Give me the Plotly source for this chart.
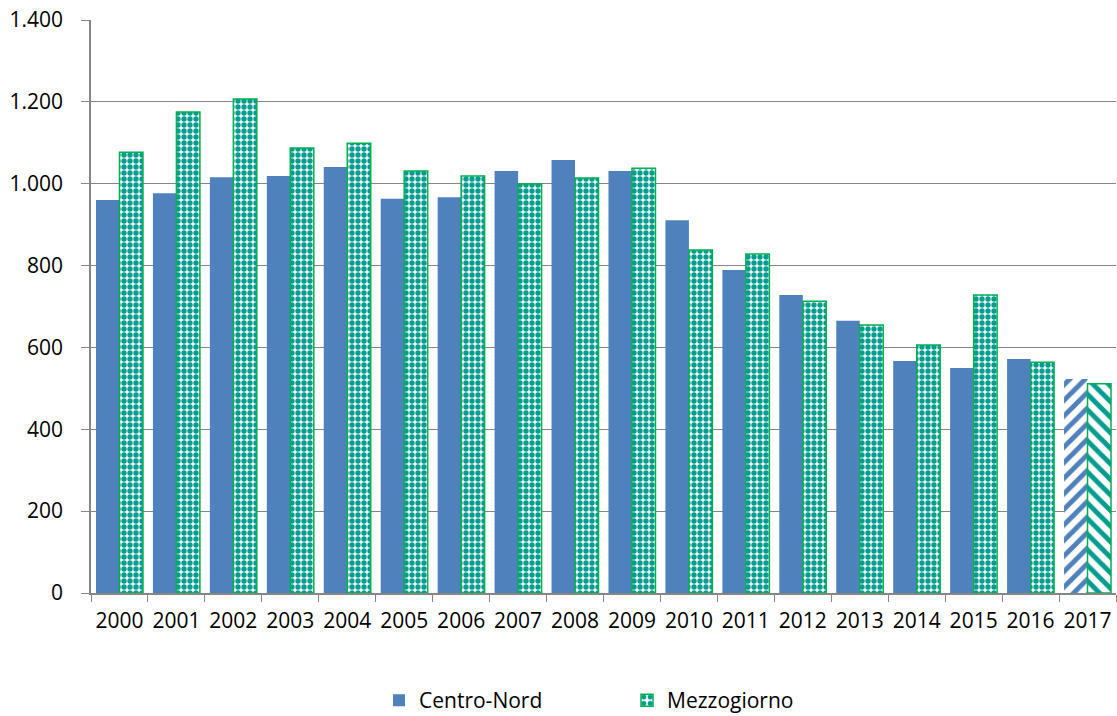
import plotly.graph_objects as go

years = [str(y) for y in range(2000, 2018)]
centro_nord = [960, 977, 1016, 1019, 1041, 963, 967, 1031, 1058, 1031,
               911, 789, 728, 665, 567, 550, 572, 523]
mezzogiorno = [1077, 1175, 1207, 1087, 1099, 1031, 1019, 999, 1014, 1038,
               838, 828, 713, 655, 606, 728, 564, 511]
y_ticks = [0, 200, 400, 600, 800, 1000, 1200, 1400]

BLUE = "#4F81BD"
TEAL = "#009C8F"
GREEN = "#00B050"
GRID = "#868686"
FONT = "Open Sans"

# last year is an estimate: drawn with hatching
n = len(years)
cn_shapes = [""] * (n - 1) + ["/"]
mz_shapes = ["."] * (n - 1) + ["\\"]

fig = go.Figure()
fig.add_trace(go.Bar(
    name="Centro-Nord", x=years, y=centro_nord,
    marker=dict(
        color=BLUE, line=dict(width=0),
        pattern=dict(shape=cn_shapes, fgcolor=BLUE, bgcolor="white",
                     size=11, solidity=0.45, fillmode="replace"),
    ),
))
fig.add_trace(go.Bar(
    name="Mezzogiorno", x=years, y=mezzogiorno,
    marker=dict(
        color=TEAL, line=dict(width=1.5, color=GREEN),
        pattern=dict(shape=mz_shapes, fgcolor=TEAL, bgcolor="white",
                     size=[6] * (n - 1) + [11], solidity=[0.62] * (n - 1) + [0.45],
                     fillmode="replace"),
    ),
))

fig.update_layout(
    width=1117, height=716,
    margin=dict(l=91, r=1, t=20, b=123, autoexpand=False),
    paper_bgcolor="white", plot_bgcolor="white",
    barmode="group", bargap=0.175, bargroupgap=0,
    separators=",.",
    font=dict(family=FONT, size=21, color="black"),
    showlegend=True,
    legend=dict(orientation="h", x=0.281, xanchor="left", y=-0.152, yanchor="top",
                font=dict(size=21), entrywidth=203, traceorder="normal"),
    xaxis=dict(
        type="category", tickson="boundaries", ticks="outside", ticklen=7,
        tickcolor=GRID, showline=True, linecolor=GRID, linewidth=1.5,
        showgrid=False, tickfont=dict(size=21), ticklabelstandoff=8,
        tickangle=0, automargin=False,
    ),
    yaxis=dict(
        range=[0, 1400], tickvals=y_ticks, tickformat=",d",
        ticks="outside", ticklen=8, tickcolor=GRID,
        showline=True, linecolor=GRID, linewidth=1.5,
        showgrid=True, gridcolor=GRID, gridwidth=1.2,
        zeroline=False, tickfont=dict(size=21), ticklabelstandoff=14,
        automargin=False,
    ),
)

fig.write_html("out.html")
